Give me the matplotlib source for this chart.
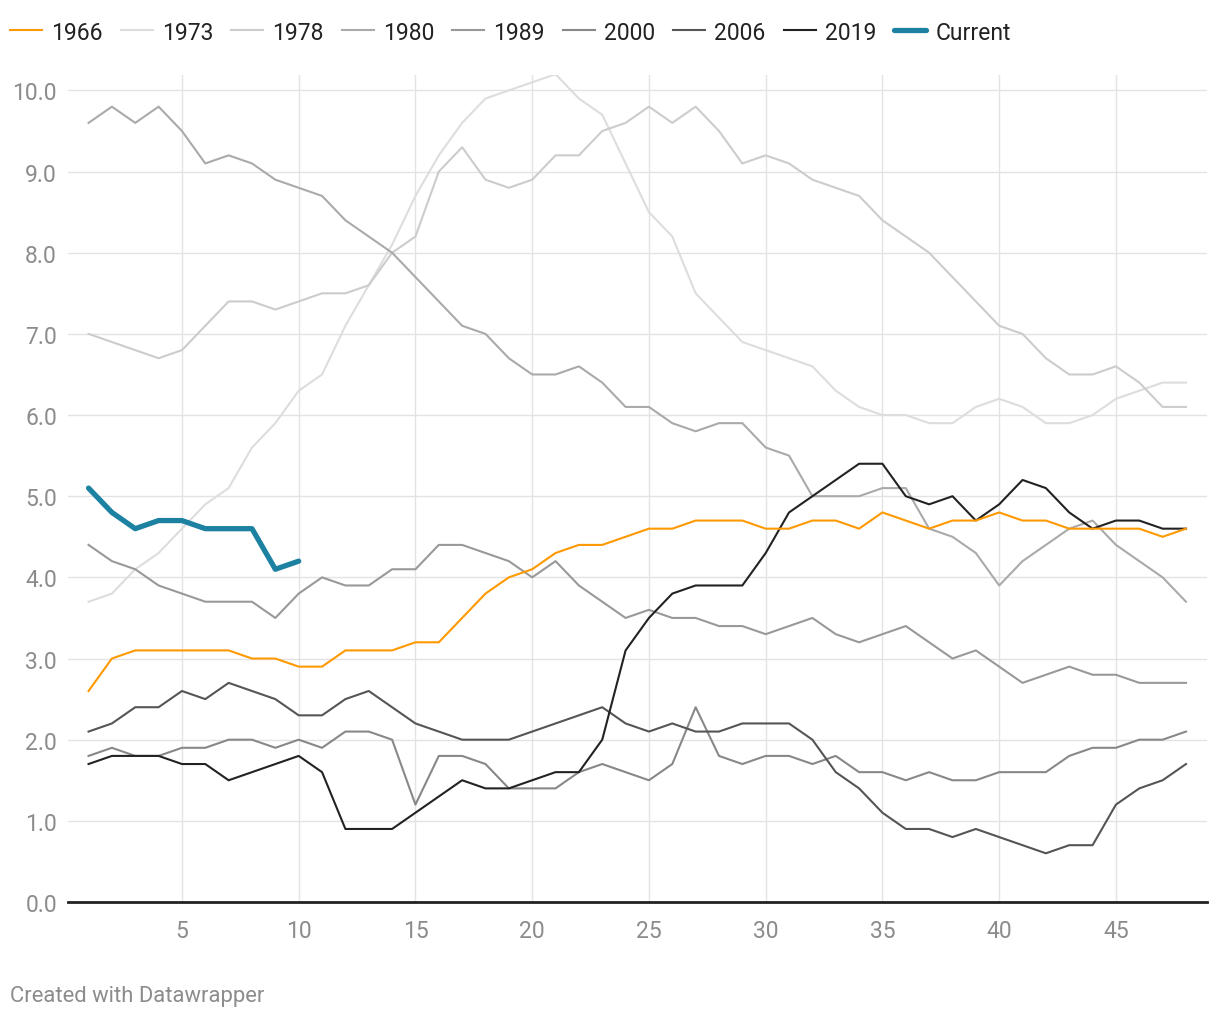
import numpy as np
import matplotlib
matplotlib.use('Agg')
from matplotlib import pyplot as plt

plt.rcParams['font.family'] = ['Roboto', 'DejaVu Sans']

# x positions 1..48
x = np.arange(1, 49)

y1966 = [2.6, 3.0, 3.1, 3.1, 3.1, 3.1, 3.1, 3.0, 3.0, 2.9, 2.9, 3.1, 3.1, 3.1, 3.2, 3.2,
         3.5, 3.8, 4.0, 4.1, 4.3, 4.4, 4.4, 4.5, 4.6, 4.6, 4.7, 4.7, 4.7, 4.6, 4.6, 4.7,
         4.7, 4.6, 4.8, 4.7, 4.6, 4.7, 4.7, 4.8, 4.7, 4.7, 4.6, 4.6, 4.6, 4.6, 4.5, 4.6]
y1973 = [3.7, 3.8, 4.1, 4.3, 4.6, 4.9, 5.1, 5.6, 5.9, 6.3, 6.5, 7.1, 7.6, 8.1, 8.7, 9.2,
         9.6, 9.9, 10.0, 10.1, 10.2, 9.9, 9.7, 9.1, 8.5, 8.2, 7.5, 7.2, 6.9, 6.8, 6.7, 6.6,
         6.3, 6.1, 6.0, 6.0, 5.9, 5.9, 6.1, 6.2, 6.1, 5.9, 5.9, 6.0, 6.2, 6.3, 6.4, 6.4]
y1978 = [7.0, 6.9, 6.8, 6.7, 6.8, 7.1, 7.4, 7.4, 7.3, 7.4, 7.5, 7.5, 7.6, 8.0, 8.2, 9.0,
         9.3, 8.9, 8.8, 8.9, 9.2, 9.2, 9.5, 9.6, 9.8, 9.6, 9.8, 9.5, 9.1, 9.2, 9.1, 8.9,
         8.8, 8.7, 8.4, 8.2, 8.0, 7.7, 7.4, 7.1, 7.0, 6.7, 6.5, 6.5, 6.6, 6.4, 6.1, 6.1]
y1980 = [9.6, 9.8, 9.6, 9.8, 9.5, 9.1, 9.2, 9.1, 8.9, 8.8, 8.7, 8.4, 8.2, 8.0, 7.7, 7.4,
         7.1, 7.0, 6.7, 6.5, 6.5, 6.6, 6.4, 6.1, 6.1, 5.9, 5.8, 5.9, 5.9, 5.6, 5.5, 5.0,
         5.0, 5.0, 5.1, 5.1, 4.6, 4.5, 4.3, 3.9, 4.2, 4.4, 4.6, 4.7, 4.4, 4.2, 4.0, 3.7]
y1989 = [4.4, 4.2, 4.1, 3.9, 3.8, 3.7, 3.7, 3.7, 3.5, 3.8, 4.0, 3.9, 3.9, 4.1, 4.1, 4.4,
         4.4, 4.3, 4.2, 4.0, 4.2, 3.9, 3.7, 3.5, 3.6, 3.5, 3.5, 3.4, 3.4, 3.3, 3.4, 3.5,
         3.3, 3.2, 3.3, 3.4, 3.2, 3.0, 3.1, 2.9, 2.7, 2.8, 2.9, 2.8, 2.8, 2.7, 2.7, 2.7]
y2000 = [1.8, 1.9, 1.8, 1.8, 1.9, 1.9, 2.0, 2.0, 1.9, 2.0, 1.9, 2.1, 2.1, 2.0, 1.2, 1.8,
         1.8, 1.7, 1.4, 1.4, 1.4, 1.6, 1.7, 1.6, 1.5, 1.7, 2.4, 1.8, 1.7, 1.8, 1.8, 1.7,
         1.8, 1.6, 1.6, 1.5, 1.6, 1.5, 1.5, 1.6, 1.6, 1.6, 1.8, 1.9, 1.9, 2.0, 2.0, 2.1]
y2006 = [2.1, 2.2, 2.4, 2.4, 2.6, 2.5, 2.7, 2.6, 2.5, 2.3, 2.3, 2.5, 2.6, 2.4, 2.2, 2.1,
         2.0, 2.0, 2.0, 2.1, 2.2, 2.3, 2.4, 2.2, 2.1, 2.2, 2.1, 2.1, 2.2, 2.2, 2.2, 2.0,
         1.6, 1.4, 1.1, 0.9, 0.9, 0.8, 0.9, 0.8, 0.7, 0.6, 0.7, 0.7, 1.2, 1.4, 1.5, 1.7]
y2019 = [1.7, 1.8, 1.8, 1.8, 1.7, 1.7, 1.5, 1.6, 1.7, 1.8, 1.6, 0.9, 0.9, 0.9, 1.1, 1.3,
         1.5, 1.4, 1.4, 1.5, 1.6, 1.6, 2.0, 3.1, 3.5, 3.8, 3.9, 3.9, 3.9, 4.3, 4.8, 5.0,
         5.2, 5.4, 5.4, 5.0, 4.9, 5.0, 4.7, 4.9, 5.2, 5.1, 4.8, 4.6, 4.7, 4.7, 4.6, 4.6]
ycurrent = [5.1, 4.8, 4.6, 4.7, 4.7, 4.6, 4.6, 4.6, 4.1, 4.2]

fig = plt.figure(figsize=(12.2, 10.2), dpi=100)
ax = fig.add_axes([68/1220, 117/1020, (1207-68)/1220, (903-76)/1020])

# grey lines first, lightest at the back
greys = [('1973', y1973, '#dddddd'), ('1978', y1978, '#cccccc'), ('1980', y1980, '#aaaaaa'),
         ('1989', y1989, '#999999'), ('2000', y2000, '#888888'), ('2006', y2006, '#555555'),
         ('2019', y2019, '#222222')]
handles = {}
for lab, yy, col in greys:
    handles[lab], = ax.plot(x, yy, color=col, lw=1.5, label=lab, zorder=3)
handles['1966'], = ax.plot(x, y1966, color='#ff9900', lw=1.5, label='1966', zorder=4)
handles['Current'], = ax.plot(x[:len(ycurrent)], ycurrent, color='#1d81a2', lw=3.8,
                              solid_capstyle='round', solid_joinstyle='round',
                              label='Current', zorder=5)

ax.set_xlim(0.12, 48.9)
ax.set_ylim(0, 10.19)
ax.set_xticks([5, 10, 15, 20, 25, 30, 35, 40, 45])
ax.set_yticks(np.arange(0, 10.1, 1.0))
ax.set_yticklabels(['%.1f' % v for v in np.arange(0, 10.1, 1.0)])
ax.grid(True, color='#e3e3e3', lw=1.0, zorder=0)
ax.set_axisbelow(True)
for s in ['top', 'right', 'left']:
    ax.spines[s].set_visible(False)
ax.spines['bottom'].set_color('#222222')
ax.spines['bottom'].set_linewidth(2)
ax.spines['bottom'].set_zorder(6)
ax.tick_params(axis='both', length=0, labelsize=16.5, labelcolor='#8c8c8c')
ax.tick_params(axis='y', pad=8)
ax.tick_params(axis='x', pad=12)

order = ['1966', '1973', '1978', '1980', '1989', '2000', '2006', '2019', 'Current']
leg = fig.legend([handles[k] for k in order], order, loc='center left',
                 bbox_to_anchor=(10/1220, 1 - 33/1020), ncol=9, frameon=False,
                 fontsize=16.5, handlelength=1.4, handletextpad=0.4,
                 columnspacing=0.78, borderpad=0, borderaxespad=0)
for t in leg.get_texts():
    t.set_color('#222222')

fig.text(10/1220, 1 - 997/1020, 'Created with Datawrapper', fontsize=15.8,
         color='#8c8c8c', ha='left', va='center')

plt.savefig('out.png', dpi=100)
